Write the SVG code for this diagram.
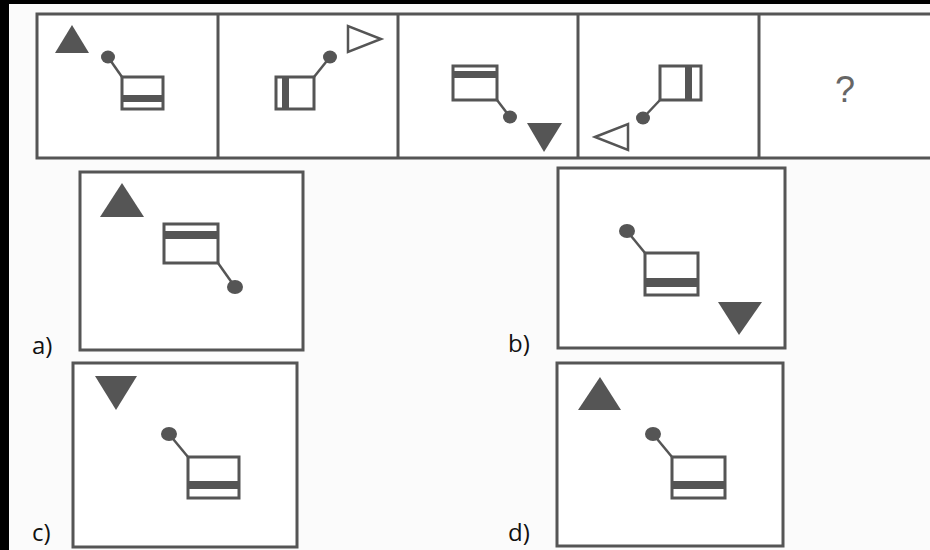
<svg xmlns="http://www.w3.org/2000/svg" width="930" height="550" viewBox="0 0 930 550">
<style>
.frame{fill:#fff;stroke:#555;stroke-width:3}
.box{fill:#fff;stroke:#555;stroke-width:3}
.bar{fill:#555}
.stem{stroke:#555;stroke-width:2.5;fill:none}
.dot{fill:#555}
.tri{fill:#555}
.otri{fill:#fff;stroke:#555;stroke-width:2.5;stroke-linejoin:miter}
.lbl{font-family:"Open Sans","Liberation Sans",Arial,sans-serif;font-size:24px;fill:#111}
.q{font-family:"Liberation Sans",Arial,sans-serif;font-size:36px;fill:#666;text-anchor:middle}
</style>
<rect x="0" y="0" width="930" height="550" fill="#fbfbfb"/>
<rect x="0" y="0" width="930" height="4" fill="#000"/>
<rect x="0" y="0" width="9" height="550" fill="#000"/>

<g id="row">
<rect x="37" y="14" width="900" height="144" class="frame"/>
<line x1="218" y1="14" x2="218" y2="158" stroke="#555" stroke-width="3"/>
<line x1="398" y1="14" x2="398" y2="158" stroke="#555" stroke-width="3"/>
<line x1="578" y1="14" x2="578" y2="158" stroke="#555" stroke-width="3"/>
<line x1="759" y1="14" x2="759" y2="158" stroke="#555" stroke-width="3"/>
</g>

<g id="cell1">
<polygon class="tri" points="72,25 55,53 89,53"/>
<line class="stem" x1="108" y1="57" x2="122" y2="77"/>
<ellipse class="dot" cx="108" cy="57" rx="7" ry="6.5"/>
<rect class="box" x="122" y="77" width="41" height="32"/>
<rect class="bar" x="121" y="95" width="43" height="7"/>
</g>

<g id="cell2">
<polygon class="otri" points="348,26 348,52 381,39"/>
<line class="stem" x1="330" y1="57" x2="314" y2="77"/>
<ellipse class="dot" cx="330" cy="57" rx="7" ry="6.5"/>
<rect class="box" x="276" y="77" width="38" height="32"/>
<rect class="bar" x="282" y="76" width="7" height="34"/>
</g>

<g id="cell3">
<rect class="box" x="453" y="66" width="44" height="34"/>
<rect class="bar" x="452" y="71" width="46" height="7"/>
<line class="stem" x1="497" y1="100" x2="510" y2="117"/>
<ellipse class="dot" cx="510" cy="117" rx="7" ry="6.5"/>
<polygon class="tri" points="527,123 562,123 544,152"/>
</g>

<g id="cell4">
<rect class="box" x="660" y="66" width="41" height="34"/>
<rect class="bar" x="685" y="65" width="7" height="36"/>
<line class="stem" x1="660" y1="100" x2="643" y2="118"/>
<ellipse class="dot" cx="643" cy="118" rx="7" ry="6.5"/>
<polygon class="otri" points="595,137 628,124 628,150"/>
</g>

<g id="cell5">
<text class="q" x="845" y="102">?</text>
</g>

<g id="optA">
<rect class="frame" x="80" y="172" width="223" height="178"/>
<polygon class="tri" points="122,183 100,217 144,217"/>
<rect class="box" x="164" y="224" width="54" height="39"/>
<rect class="bar" x="163" y="231" width="56" height="8"/>
<line class="stem" x1="218" y1="263" x2="235" y2="287"/>
<ellipse class="dot" cx="235" cy="287" rx="8" ry="7"/>
<text class="lbl" x="32" y="354">a)</text>
</g>

<g id="optB">
<rect class="frame" x="558" y="168" width="227" height="180"/>
<line class="stem" x1="627" y1="231" x2="645" y2="253"/>
<ellipse class="dot" cx="627" cy="231" rx="8" ry="7"/>
<rect class="box" x="645" y="253" width="53" height="42"/>
<rect class="bar" x="644" y="278" width="55" height="9"/>
<polygon class="tri" points="718,302 762,302 739,335"/>
<text class="lbl" x="508" y="352">b)</text>
</g>

<g id="optC">
<rect class="frame" x="73" y="363" width="224" height="184"/>
<polygon class="tri" points="95,376 137,376 116,410"/>
<line class="stem" x1="169" y1="434" x2="188" y2="457"/>
<ellipse class="dot" cx="169" cy="434" rx="8" ry="7"/>
<rect class="box" x="188" y="457" width="51" height="41"/>
<rect class="bar" x="187" y="481" width="53" height="8"/>
<text class="lbl" x="32" y="541">c)</text>
</g>

<g id="optD">
<rect class="frame" x="557" y="363" width="226" height="183"/>
<polygon class="tri" points="600,377 578,410 621,410"/>
<line class="stem" x1="653" y1="434" x2="672" y2="457"/>
<ellipse class="dot" cx="653" cy="434" rx="8" ry="7"/>
<rect class="box" x="672" y="457" width="53" height="41"/>
<rect class="bar" x="671" y="481" width="55" height="8"/>
<text class="lbl" x="508" y="541">d)</text>
</g>
</svg>
